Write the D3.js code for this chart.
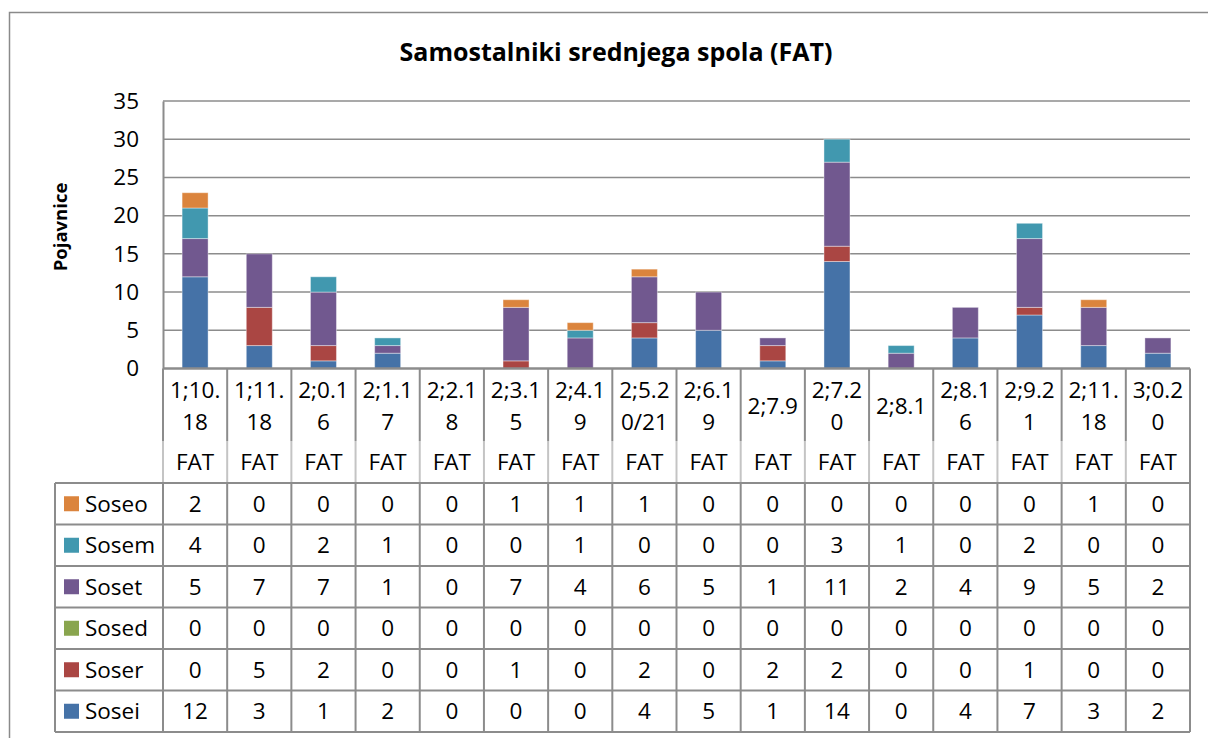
<!DOCTYPE html>
<html><head><meta charset="utf-8">
<script src="https://cdn.jsdelivr.net/npm/d3@7"></script>
<style>
html,body{margin:0;padding:0;background:#fff;}
svg text{font-family:"Open Sans","Noto Sans",sans-serif;fill:#000;}
</style></head>
<body><svg id="c" width="1208" height="738"></svg>
<script>
const title = "Samostalniki srednjega spola (FAT)";
const yLabel = "Pojavnice";
const categories = ["1;10.18","1;11.18","2;0.16","2;1.17","2;2.18","2;3.15","2;4.19","2;5.20/21","2;6.19","2;7.9","2;7.20","2;8.1","2;8.16","2;9.21","2;11.18","3;0.20"];
const subLabel = "FAT";
const seriesNames = ["Sosei","Soser","Sosed","Soset","Sosem","Soseo"];
const seriesColors = ["#4572A7","#AA4643","#89A54E","#71588F","#4198AF","#DB843D"];
const Sosei = [12,3,1,2,0,0,0,4,5,1,14,0,4,7,3,2];
const Soser = [0,5,2,0,0,1,0,2,0,2,2,0,0,1,0,0];
const Sosed = [0,0,0,0,0,0,0,0,0,0,0,0,0,0,0,0];
const Soset = [5,7,7,1,0,7,4,6,5,1,11,2,4,9,5,2];
const Sosem = [4,0,2,1,0,0,1,0,0,0,3,1,0,2,0,0];
const Soseo = [2,0,0,0,0,1,1,1,0,0,0,0,0,0,1,0];
const yTicks = [0,5,10,15,20,25,30,35];

const seriesValues = [Sosei,Soser,Sosed,Soset,Sosem,Soseo];
const svg = d3.select("#c");
const L = 163, R = 1190, T = 101, B = 368.5;
const gridColor = "#8c8c8c";
const fs = 22.5;

// outer border
svg.append("rect").attr("x",9.5).attr("y",12.5).attr("width",1230).attr("height",740)
  .attr("fill","none").attr("stroke","#8a8a8a").attr("stroke-width",1.5);

// title
svg.append("text").attr("x",616).attr("y",61).attr("text-anchor","middle")
  .attr("font-size",25).attr("font-weight","bold").text(title);

const x = d3.scaleBand().domain(categories).range([L,R]).paddingInner(0.595).paddingOuter(0.2975);
const step = x.step();
const y = d3.scaleLinear().domain([0,35]).range([B,T]);

// gridlines
svg.append("g").selectAll("line").data(yTicks.filter(d=>d>0)).join("line")
  .attr("x1",L).attr("x2",R).attr("y1",d=>y(d)).attr("y2",d=>y(d))
  .attr("stroke",gridColor).attr("stroke-width",1.5);

// y axis
const ya = d3.axisLeft(y).tickValues(yTicks).tickSize(0).tickPadding(24);
const yg = svg.append("g").attr("transform",`translate(${L},0)`).call(ya);
yg.select(".domain").attr("stroke",gridColor).attr("stroke-width",2);
yg.selectAll("text").attr("font-size",fs).attr("font-family","Open Sans").attr("fill","#000");

// y label
svg.append("text").attr("transform","translate(67,227) rotate(-90)").attr("text-anchor","middle")
  .attr("font-size",18.5).attr("font-weight","bold").text(yLabel);

// stacked bars
const rows = categories.map((c,i)=>{const o={cat:c}; seriesNames.forEach((s,j)=>o[s]=seriesValues[j][i]); return o;});
const stack = d3.stack().keys(seriesNames)(rows);
svg.append("g").selectAll("g").data(stack).join("g")
  .attr("fill",(d,i)=>seriesColors[i])
  .selectAll("rect").data(d=>d.filter(p=>p[1]-p[0]>0)).join("rect")
  .attr("x",d=>x(d.data.cat)).attr("width",x.bandwidth())
  .attr("y",d=>y(d[1])).attr("height",d=>y(d[0])-y(d[1]))
  .attr("stroke","rgba(255,255,255,0.4)").attr("stroke-width",1);

// x axis line
svg.append("line").attr("x1",L).attr("x2",R).attr("y1",B).attr("y2",B)
  .attr("stroke",gridColor).attr("stroke-width",2.5);

// table geometry
const rowTop = 483, rowH = 41.5, labelLeft = 55;
const tableRows = seriesNames.slice().reverse(); // Soseo at top
const nRows = tableRows.length;
const tableBottom = rowTop + rowH*nRows;

// vertical lines
categories.forEach((c,i)=>{
  const xx = L + i*step;
  svg.append("line").attr("x1",xx).attr("x2",xx).attr("y1",B).attr("y2",441).attr("stroke",gridColor).attr("stroke-width",2);
  svg.append("line").attr("x1",xx).attr("x2",xx).attr("y1",441).attr("y2",rowTop).attr("stroke","#c4c4c4").attr("stroke-width",2);
  svg.append("line").attr("x1",xx).attr("x2",xx).attr("y1",rowTop).attr("y2",tableBottom).attr("stroke",gridColor).attr("stroke-width",2);
});
svg.append("line").attr("x1",R).attr("x2",R).attr("y1",B).attr("y2",tableBottom).attr("stroke",gridColor).attr("stroke-width",2);
svg.append("line").attr("x1",labelLeft).attr("x2",labelLeft).attr("y1",rowTop).attr("y2",tableBottom).attr("stroke",gridColor).attr("stroke-width",2);
for(let r=0;r<=nRows;r++){
  svg.append("line").attr("x1",labelLeft).attr("x2",R).attr("y1",rowTop+r*rowH).attr("y2",rowTop+r*rowH)
    .attr("stroke",gridColor).attr("stroke-width",2);
}

// category labels (wrapped every 5 characters)
categories.forEach(c=>{
  const cx = x(c)+x.bandwidth()/2;
  const lines = [];
  for(let k=0;k<c.length;k+=5) lines.push(c.slice(k,k+5));
  const centers = lines.length===1 ? [406] : [390,422];
  lines.forEach((ln,k)=>{
    svg.append("text").attr("x",cx).attr("y",centers[k]).attr("dy","0.35em").attr("text-anchor","middle")
      .attr("font-size",fs).text(ln);
  });
  svg.append("text").attr("x",cx).attr("y",462).attr("dy","0.35em").attr("text-anchor","middle")
    .attr("font-size",fs).text(subLabel);
});

// table rows
tableRows.forEach((s,r)=>{
  const j = seriesNames.indexOf(s);
  const cy = rowTop + r*rowH + rowH/2;
  svg.append("rect").attr("x",64).attr("y",cy-7.5).attr("width",15).attr("height",15).attr("fill",seriesColors[j]);
  svg.append("text").attr("x",85).attr("y",cy).attr("dy","0.35em").attr("font-size",fs).text(s);
  seriesValues[j].forEach((v,i)=>{
    svg.append("text").attr("x",x(categories[i])+x.bandwidth()/2).attr("y",cy).attr("dy","0.35em")
      .attr("text-anchor","middle").attr("font-size",fs).text(v);
  });
});
</script></body></html>
